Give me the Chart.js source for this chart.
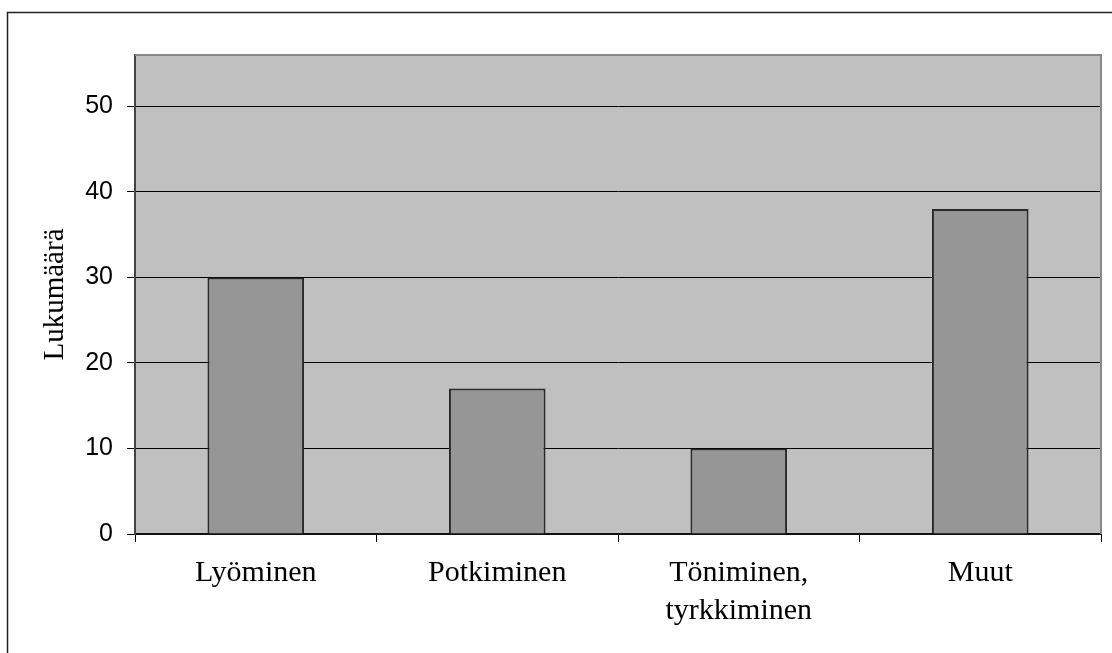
<!DOCTYPE html>
<html>
<head>
<meta charset="utf-8">
<script src="https://cdn.jsdelivr.net/npm/chart.js@4.4.1/dist/chart.umd.min.js"></script>
<style>
  html, body { margin: 0; padding: 0; background: #fff; }
  #wrap { width: 1112px; height: 653px; }
</style>
</head>
<body>
<div id="wrap"><canvas id="chart"></canvas></div>
<script>
// kategoriat ja arvot
const categories = ['Lyöminen', 'Potkiminen', ['Töniminen,', 'tyrkkiminen'], 'Muut'];
const counts = [30, 17, 10, 38];
const yTicks = [0, 10, 20, 30, 40, 50];
const yMax = 56;

// harmaa piirtoalue + kehys
const plotFrame = {
  id: 'plotFrame',
  beforeDraw(chart) {
    const { ctx, chartArea: a } = chart;
    ctx.save();
    ctx.fillStyle = '#c0c0c0';
    ctx.fillRect(a.left, a.top, a.right - a.left, a.bottom - a.top);
    ctx.restore();
  },
  afterDraw(chart) {
    const { ctx, chartArea: a } = chart;
    ctx.save();
    ctx.strokeStyle = '#888';
    ctx.lineWidth = 2;
    ctx.beginPath();
    ctx.moveTo(a.left, a.top);
    ctx.lineTo(a.right, a.top);
    ctx.lineTo(a.right, a.bottom);
    ctx.stroke();
    // ulkokehys (vain vasen ja ylä)
    ctx.strokeStyle = '#222';
    ctx.lineWidth = 1.5;
    ctx.beginPath();
    ctx.moveTo(7.5, chart.height);
    ctx.lineTo(7.5, 12.5);
    ctx.lineTo(chart.width, 12.5);
    ctx.stroke();
    ctx.restore();
  }
};

new Chart(document.getElementById('chart'), {
  type: 'bar',
  data: {
    labels: categories,
    datasets: [{
      data: counts,
      backgroundColor: '#969696',
      borderColor: '#2a2a2a',
      borderWidth: 2,
      barPercentage: 0.4,
      categoryPercentage: 1
    }]
  },
  options: {
    responsive: true,
    maintainAspectRatio: false,
    animation: false,
    layout: { padding: { left: 0, right: 11, top: 55, bottom: 0 } },
    plugins: {
      legend: { display: false },
      tooltip: { enabled: false }
    },
    scales: {
      x: {
        offset: true,
        grid: {
          offset: true,
          drawOnChartArea: false,
          drawTicks: true,
          tickLength: 8,
          color: '#000',
          lineWidth: 1
        },
        border: { color: '#111', width: 2 },
        ticks: {
          color: '#000',
          padding: 13,
          maxRotation: 0,
          autoSkip: false,
          font: { family: '"Liberation Serif", serif', size: 30, lineHeight: 1.24 }
        },
        afterFit(scale) { scale.height = 119; }
      },
      y: {
        min: 0,
        max: yMax,
        afterBuildTicks(scale) {
          scale.ticks = yTicks.map(v => ({ value: v }));
        },
        grid: {
          color: '#000',
          lineWidth: 1,
          tickLength: 8
        },
        border: { color: '#444', width: 2 },
        ticks: {
          color: '#000',
          padding: 14,
          font: { family: '"Liberation Sans", Arial, sans-serif', size: 25 }
        },
        title: {
          display: true,
          text: 'Lukumäärä',
          color: '#000',
          padding: { top: 38, bottom: 0 },
          font: { family: '"Liberation Serif", serif', size: 29 }
        },
        afterFit(scale) { scale.width = 135; }
      }
    }
  },
  plugins: [plotFrame]
});
</script>
</body>
</html>
